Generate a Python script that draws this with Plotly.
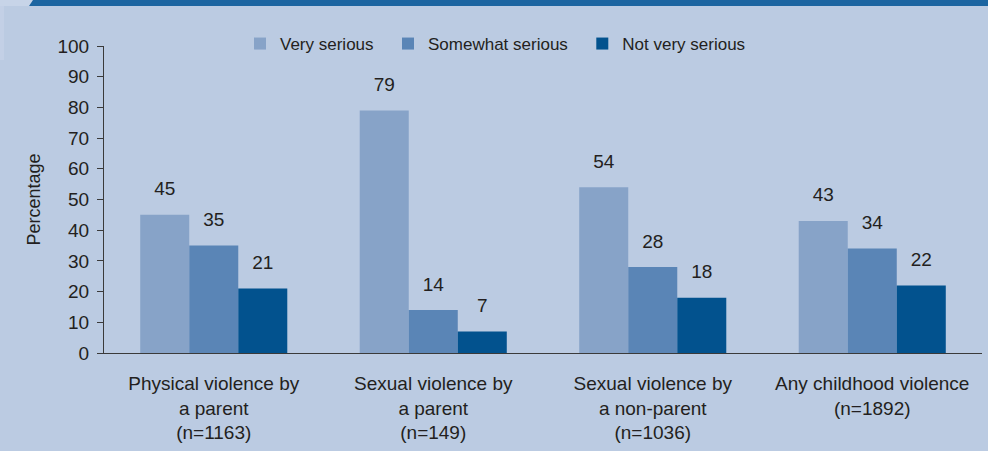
import plotly.graph_objects as go

categories = [
    "Physical violence by<br>a parent<br>(n=1163)",
    "Sexual violence by<br>a parent<br>(n=149)",
    "Sexual violence by<br>a non-parent<br>(n=1036)",
    "Any childhood violence<br>(n=1892)",
]
series_names = ["Very serious", "Somewhat serious", "Not very serious"]
very_serious = [45, 79, 54, 43]
somewhat_serious = [35, 14, 28, 34]
not_very_serious = [21, 7, 18, 22]
y_ticks = [0, 10, 20, 30, 40, 50, 60, 70, 80, 90, 100]

series_values = [very_serious, somewhat_serious, not_very_serious]
legend_pad = ["\u00a0\u00a0", "\u00a0\u00a0", ""]
colors = ["#87A3C8", "#5A85B6", "#02528E"]
BG = "#BBCBE2"
TXT = "#231F20"
FONT = "Liberation Sans, Arial, sans-serif"
GAP = 0.33

fig = go.Figure()
for name, vals, col, pad in zip(series_names, series_values, colors, legend_pad):
    fig.add_trace(go.Bar(
        x=categories, y=vals, name=name + pad, marker=dict(color=col, line=dict(width=0)),
        offsetgroup=name, hoverinfo="skip",
    ))
for name, vals in zip(series_names, series_values):
    fig.add_trace(go.Scatter(
        x=categories, y=vals, mode="markers+text", text=[str(v) for v in vals],
        textposition="top center", offsetgroup=name, showlegend=False,
        marker=dict(size=22, color="rgba(0,0,0,0)"),
        textfont=dict(size=19, color=TXT, family=FONT), hoverinfo="skip", cliponaxis=False,
    ))

# top band
W, H, L, R, T, B = 988, 451, 104, 6, 46, 98
pw, ph = W - L - R, H - T - B
px = lambda v: (v - L) / pw
py = lambda v: 1 + (T - v) / ph
shapes = [
    dict(type="rect", xref="paper", yref="paper", x0=px(0), x1=px(4), y0=py(60), y1=py(0),
         fillcolor="#C3D0E6", line=dict(width=0), layer="below"),
    dict(type="rect", xref="paper", yref="paper", x0=px(0), x1=px(W), y0=py(6), y1=py(0),
         fillcolor="#1C65A1", line=dict(width=0)),
    dict(type="path", xref="paper", yref="paper",
         path=f"M {px(0)} {py(0)} L {px(33)} {py(0)} L {px(29)} {py(6)} L {px(0)} {py(6)} Z",
         fillcolor="#C7D4E8", line=dict(width=0)),
]

fig.update_layout(
    width=W, height=H,
    margin=dict(l=L, r=R, t=T, b=B, pad=0),
    paper_bgcolor=BG, plot_bgcolor=BG,
    barmode="group", bargap=GAP, bargroupgap=0,
    scattermode="group", scattergap=GAP,
    font=dict(family=FONT, color=TXT, size=19),
    shapes=shapes,
    legend=dict(orientation="h", x=px(240), xanchor="left", y=1 + 2 / ph, yanchor="middle",
                font=dict(size=17, color=TXT, family=FONT), bgcolor="rgba(0,0,0,0)",
                traceorder="normal", itemclick=False),
    xaxis=dict(showline=True, linecolor="#3A3A3A", linewidth=1, ticks="", showgrid=False,
               tickfont=dict(size=19), ticklabelstandoff=13, fixedrange=True),
    yaxis=dict(range=[0, 100], tickvals=y_ticks, showline=True, linecolor="#3A3A3A", linewidth=1,
               ticks="outside", ticklen=6, tickcolor="#3A3A3A", showgrid=False, zeroline=False,
               tickfont=dict(size=19), ticklabelstandoff=4,
               title=dict(text="Percentage", font=dict(size=18), standoff=12), fixedrange=True),
)

fig.write_html("out.html", config={"displayModeBar": False},
               post_script="document.body.style.margin='0';document.body.style.overflow='hidden';")
